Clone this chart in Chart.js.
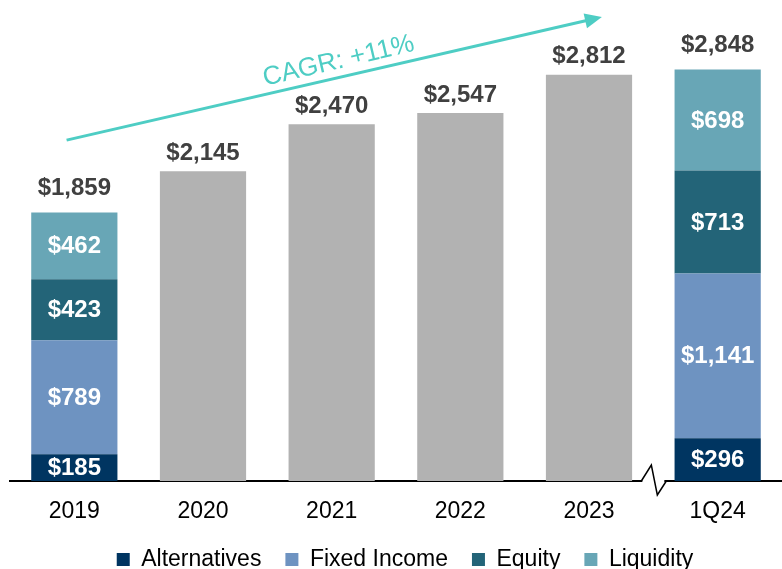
<!DOCTYPE html>
<html lang="en">
<head>
    <meta charset="UTF-8" />
    <title>AUM by asset class</title>
    <script src="https://cdn.jsdelivr.net/npm/chart.js"></script>
    <style>
        html, body { margin: 0; padding: 0; background: #fff; }
        #wrap { width: 782px; height: 569px; }
    </style>
</head>
<body>
    <div id="wrap"><canvas id="myChart" width="782" height="569"></canvas></div>

    <script>
        const periods = ['2019', '2020', '2021', '2022', '2023', '1Q24'];
        const alternatives = [185, null, null, null, null, 296];
        const fixedIncome = [789, null, null, null, null, 1141];
        const equity = [423, null, null, null, null, 713];
        const liquidity = [462, null, null, null, null, 698];
        const totalOnly = [null, 2145, 2470, 2547, 2812, null];
        const totals = [1859, 2145, 2470, 2547, 2812, 2848];
        const cagrText = 'CAGR: +11%';

        const FONT = "'Liberation Sans', Arial, sans-serif";

        const fmt = v => '$' + v.toLocaleString('en-US');

        // labels inside segments, totals above bars, CAGR arrow, axis break
        const extras = {
            id: 'extras',
            afterLayout(chart) {
                // nudge the legend a little to the right, as in the original
                chart.legend.left += 9;
                chart.legend.right += 9;
            },
            afterDatasetsDraw(chart) {
                const { ctx, scales: { x, y } } = chart;
                ctx.save();
                ctx.textAlign = 'center';
                ctx.textBaseline = 'middle';
                ctx.font = 'bold 24px ' + FONT;
                ctx.fillStyle = '#ffffff';
                for (let d = 0; d < 4; d++) {
                    chart.getDatasetMeta(d).data.forEach((bar, i) => {
                        const v = chart.data.datasets[d].data[i];
                        if (v == null) return;
                        ctx.fillText(fmt(v), bar.x, (bar.y + bar.base) / 2 + 1);
                    });
                }

                ctx.fillStyle = '#404040';
                totals.forEach((t, i) => {
                    const top = y.getPixelForValue(t);
                    const off = totalOnly[i] == null ? 24 : 18;
                    ctx.fillText(fmt(t), x.getPixelForValue(i), top - off);
                });

                // CAGR arrow
                const x0 = x.getPixelForValue(-0.06), y0 = y.getPixelForValue(2360);
                const x1 = x.getPixelForValue(4.1), y1 = y.getPixelForValue(3212);
                const ang = Math.atan2(y1 - y0, x1 - x0);
                ctx.strokeStyle = '#4ecdc4';
                ctx.fillStyle = '#4ecdc4';
                ctx.lineWidth = 3;
                ctx.beginPath();
                ctx.moveTo(x0, y0);
                ctx.lineTo(x1 - 10 * Math.cos(ang), y1 - 10 * Math.sin(ang));
                ctx.stroke();
                ctx.beginPath();
                ctx.moveTo(x1, y1);
                ctx.lineTo(x1 - 17 * Math.cos(ang) + 7.5 * Math.sin(ang), y1 - 17 * Math.sin(ang) - 7.5 * Math.cos(ang));
                ctx.lineTo(x1 - 17 * Math.cos(ang) - 7.5 * Math.sin(ang), y1 - 17 * Math.sin(ang) + 7.5 * Math.cos(ang));
                ctx.closePath();
                ctx.fill();

                ctx.save();
                const tx = x0 + (x1 - x0) * 0.515, ty = y0 + (y1 - y0) * 0.515;
                ctx.translate(tx, ty);
                ctx.rotate(ang - 0.005);
                ctx.font = '26px ' + FONT;
                ctx.textBaseline = 'bottom';
                ctx.fillText(cagrText, 0, -3);
                ctx.restore();

                // axis break
                const bx = x.getPixelForValue(4.5);
                const by = y.getPixelForValue(0);
                ctx.fillStyle = '#ffffff';
                ctx.fillRect(bx - 11, by - 3, 22, 6);
                ctx.strokeStyle = '#000000';
                ctx.lineWidth = 1.5;
                ctx.beginPath();
                ctx.moveTo(bx - 12, by);
                ctx.lineTo(bx - 2, by - 16);
                ctx.lineTo(bx + 4, by + 14);
                ctx.lineTo(bx + 13, by);
                ctx.stroke();
                ctx.restore();
            }
        };

        const ds = (label, data, color) => ({
            label, data, backgroundColor: color, borderWidth: 0,
            barPercentage: 0.67, categoryPercentage: 1
        });

        const ctx = document.getElementById('myChart').getContext('2d');
        new Chart(ctx, {
            type: 'bar',
            data: {
                labels: periods,
                datasets: [
                    ds('Alternatives', alternatives, '#003561'),
                    ds('Fixed Income', fixedIncome, '#6e93c1'),
                    ds('Equity', equity, '#236478'),
                    ds('Liquidity', liquidity, '#68a6b6'),
                    ds('Total', totalOnly, '#b2b2b2')
                ]
            },
            options: {
                responsive: false,
                animation: false,
                layout: { padding: { left: 10, right: 0, top: 0, bottom: -12 } },
                scales: {
                    x: {
                        stacked: true,
                        grid: { display: false, drawTicks: false },
                        border: { display: true, color: '#000000', width: 2 },
                        ticks: { color: '#000000', font: { family: FONT, size: 23, lineHeight: 1.2 }, padding: 17 },
                        afterFit: s => { s.height = 43; }
                    },
                    y: {
                        stacked: true,
                        display: false,
                        min: 0,
                        max: 3330
                    }
                },
                plugins: {
                    tooltip: { enabled: false },
                    legend: {
                        position: 'bottom',
                        labels: {
                            filter: item => item.text !== 'Total',
                            boxWidth: 13,
                            boxHeight: 13,
                            padding: 24,
                            color: '#000000',
                            font: { family: FONT, size: 23 }
                        }
                    }
                }
            },
            plugins: [extras]
        });
    </script>
</body>
</html>
